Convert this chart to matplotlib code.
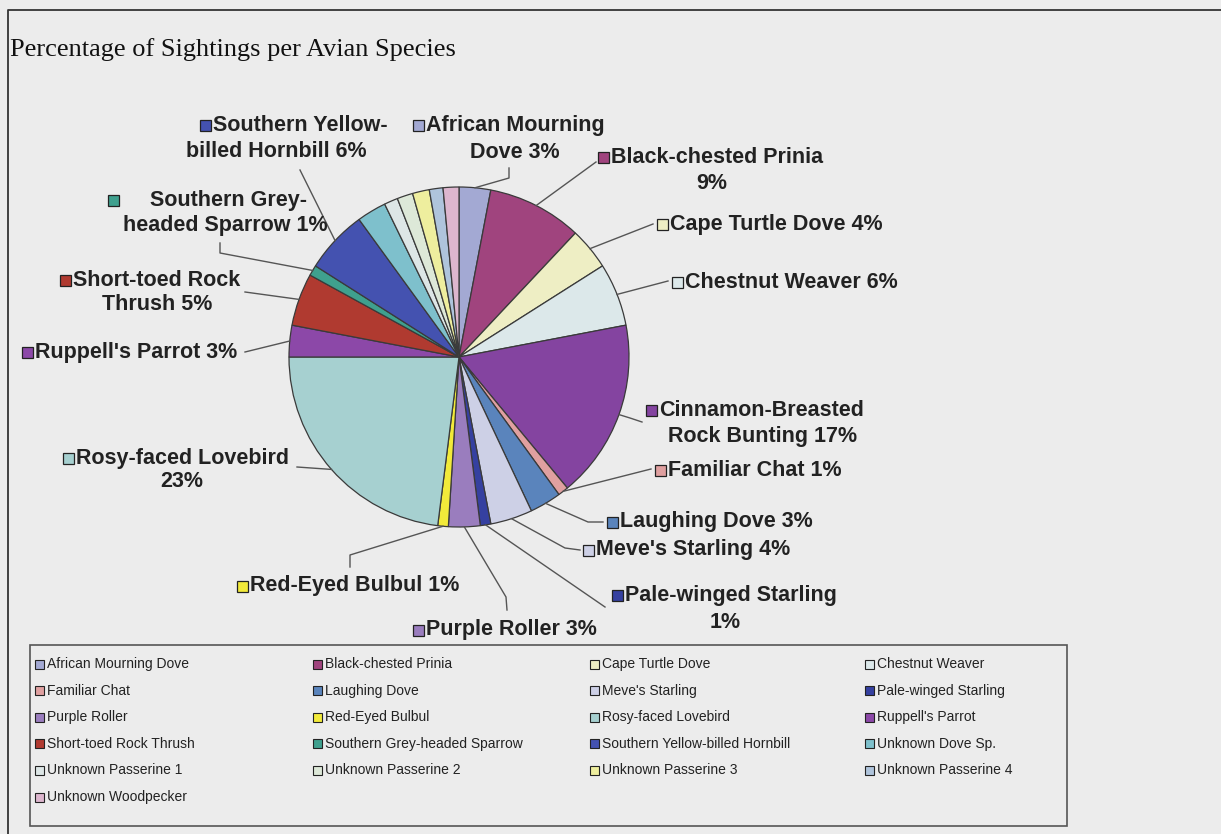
import numpy as np
import matplotlib.pyplot as plt
from matplotlib.patches import Rectangle

W, H = 1221, 834

species = ['African Mourning Dove', 'Black-chested Prinia', 'Cape Turtle Dove', 'Chestnut Weaver',
           'Cinnamon-Breasted Rock Bunting', 'Familiar Chat', 'Laughing Dove', "Meve's Starling",
           'Pale-winged Starling', 'Purple Roller', 'Red-Eyed Bulbul', 'Rosy-faced Lovebird',
           "Ruppell's Parrot", 'Short-toed Rock Thrush', 'Southern Grey-headed Sparrow',
           'Southern Yellow-billed Hornbill', 'Unknown Dove Sp.', 'Unknown Passerine 1',
           'Unknown Passerine 2', 'Unknown Passerine 3', 'Unknown Passerine 4', 'Unknown Woodpecker']
pct = [3, 9, 4, 6, 17, 1, 3, 4, 1, 3, 1, 23, 3, 5, 1, 6, 2.8, 1.3, 1.5, 1.6, 1.3, 1.5]
colors = ['#a3a9d3', '#a0447e', '#eeeec4', '#dce8ea', '#8444a0', '#e0a0a0', '#5a84bc', '#cdd0e6',
          '#3540a0', '#9a7dbe', '#f2ea3a', '#a6d0d0', '#8c48a8', '#b03a30', '#3fa08e', '#4452b0',
          '#7ec0cc', '#dde6e6', '#dde8d8', '#eeee9e', '#afc4dc', '#ddb6ce']

# wrapped label text (Excel style); {} gets the percentage
label_text = {
    'African Mourning Dove': 'African Mourning\nDove {}',
    'Black-chested Prinia': 'Black-chested Prinia\n{}',
    'Cape Turtle Dove': 'Cape Turtle Dove {}',
    'Chestnut Weaver': 'Chestnut Weaver {}',
    'Cinnamon-Breasted Rock Bunting': 'Cinnamon-Breasted\nRock Bunting {}',
    'Familiar Chat': 'Familiar Chat {}',
    'Laughing Dove': 'Laughing Dove {}',
    "Meve's Starling": "Meve's Starling {}",
    'Pale-winged Starling': 'Pale-winged Starling\n{}',
    'Purple Roller': 'Purple Roller {}',
    'Red-Eyed Bulbul': 'Red-Eyed Bulbul {}',
    'Rosy-faced Lovebird': 'Rosy-faced Lovebird\n{}',
    "Ruppell's Parrot": "Ruppell's Parrot {}",
    'Short-toed Rock Thrush': 'Short-toed Rock\nThrush {}',
    'Southern Grey-headed Sparrow': 'Southern Grey-\nheaded Sparrow {}',
    'Southern Yellow-billed Hornbill': 'Southern Yellow-\nbilled Hornbill {}',
}
# square x, text x, first line y, second line centre x, second line y, leader points
label_pos = {
    'African Mourning Dove': (413, 426, 125, 515, 152, [(509, 168), (509, 178)]),
    'Black-chested Prinia': (598, 611, 157, 712, 183, [(596, 162)]),
    'Cape Turtle Dove': (657, 670, 224, 0, 0, [(653, 224)]),
    'Chestnut Weaver': (672, 685, 282, 0, 0, [(668, 281)]),
    'Cinnamon-Breasted Rock Bunting': (646, 659, 410, 763, 436, [(642, 422), (630, 418)]),
    'Familiar Chat': (655, 668, 470, 0, 0, [(651, 469)]),
    'Laughing Dove': (607, 620, 522, 0, 0, [(603, 522), (588, 522)]),
    "Meve's Starling": (583, 596, 550, 0, 0, [(580, 550), (565, 548)]),
    'Pale-winged Starling': (612, 625, 595, 725, 622, [(605, 607)]),
    'Purple Roller': (413, 426, 630, 0, 0, [(507, 610), (506, 597)]),
    'Red-Eyed Bulbul': (237, 250, 586, 0, 0, [(350, 567), (350, 555)]),
    'Rosy-faced Lovebird': (63, 76, 458, 182, 481, [(297, 467)]),
    "Ruppell's Parrot": (22, 35, 352, 0, 0, [(245, 352)]),
    'Short-toed Rock Thrush': (60, 73, 280, 157, 305, [(245, 292)]),
    'Southern Grey-headed Sparrow': (108, 150, 200, 225, 225, [(220, 243), (220, 253)]),
    'Southern Yellow-billed Hornbill': (200, 213, 125, 276, 151, [(300, 170)]),
}
legend_species = [s for s in species if s != 'Cinnamon-Breasted Rock Bunting']

cx, cy, r = 459, 357, 170
txt_col = '#222222'
sans = ['Liberation Sans', 'Arial', 'DejaVu Sans']
lab_fs = 15.5

fig = plt.figure(figsize=(W / 100, H / 100), dpi=100)
fig.patch.set_facecolor('#ececec')
ax = fig.add_axes([0, 0, 1, 1])

# y axis is inverted, so counterclock=True runs clockwise on screen
wedges, _ = ax.pie(pct, colors=colors, startangle=-90, counterclock=True,
                   center=(cx, cy), radius=r, frame=True,
                   wedgeprops=dict(edgecolor='#3a3a3a', linewidth=0.9))
ax.set_xlim(0, W)
ax.set_ylim(H, 0)
ax.set_aspect('equal')
ax.axis('off')

for name, w, col, p in zip(species, wedges, colors, pct):
    if name not in label_pos:
        continue
    sq_x, tx, y1, cx2, y2, pts = label_pos[name]
    mid = np.deg2rad((w.theta1 + w.theta2) / 2)
    end = (cx + r * np.cos(mid), cy + r * np.sin(mid))
    xs = [q[0] for q in pts] + [end[0]]
    ys = [q[1] for q in pts] + [end[1]]
    ax.plot(xs, ys, color='#555555', lw=1, zorder=3)
    lines = label_text[name].format(f'{p:.0f}%').split('\n')
    ax.add_patch(Rectangle((sq_x, y1 - 5.5), 11, 11, facecolor=col, edgecolor='#222222',
                           lw=0.9, zorder=4))
    ax.text(tx, y1, lines[0], ha='left', va='center', fontsize=lab_fs, fontweight='bold',
            family=sans, color=txt_col, zorder=4)
    if len(lines) > 1:
        ax.text(cx2, y2, lines[1], ha='center', va='center', fontsize=lab_fs, fontweight='bold',
                family=sans, color=txt_col, zorder=4)

# legend box, filled row by row like the original
lx0, ly0, lx1, ly1 = 30, 645, 1067, 826
ax.add_patch(Rectangle((lx0, ly0), lx1 - lx0, ly1 - ly0, facecolor='none',
                       edgecolor='#555555', lw=1.2))
col_x = [35, 313, 590, 865]
row_y0, row_dy = 664, 26.6
for i, name in enumerate(legend_species):
    c = colors[species.index(name)]
    x = col_x[i % 4]
    y = row_y0 + row_dy * (i // 4)
    ax.add_patch(Rectangle((x, y - 4.5), 9, 9, facecolor=c, edgecolor='#222222', lw=0.8))
    ax.text(x + 12, y, name, ha='left', va='center', fontsize=10, family=sans, color=txt_col)

# outer frame and title
ax.plot([8, 8, W], [H, 10, 10], color='#333333', lw=1.3)
ax.text(10, 50, 'Percentage of Sightings per Avian Species', ha='left', va='center',
        fontsize=19, family=['Liberation Serif', 'DejaVu Serif'], color='#111111')

fig.savefig('out.png', dpi=100, facecolor=fig.get_facecolor())
